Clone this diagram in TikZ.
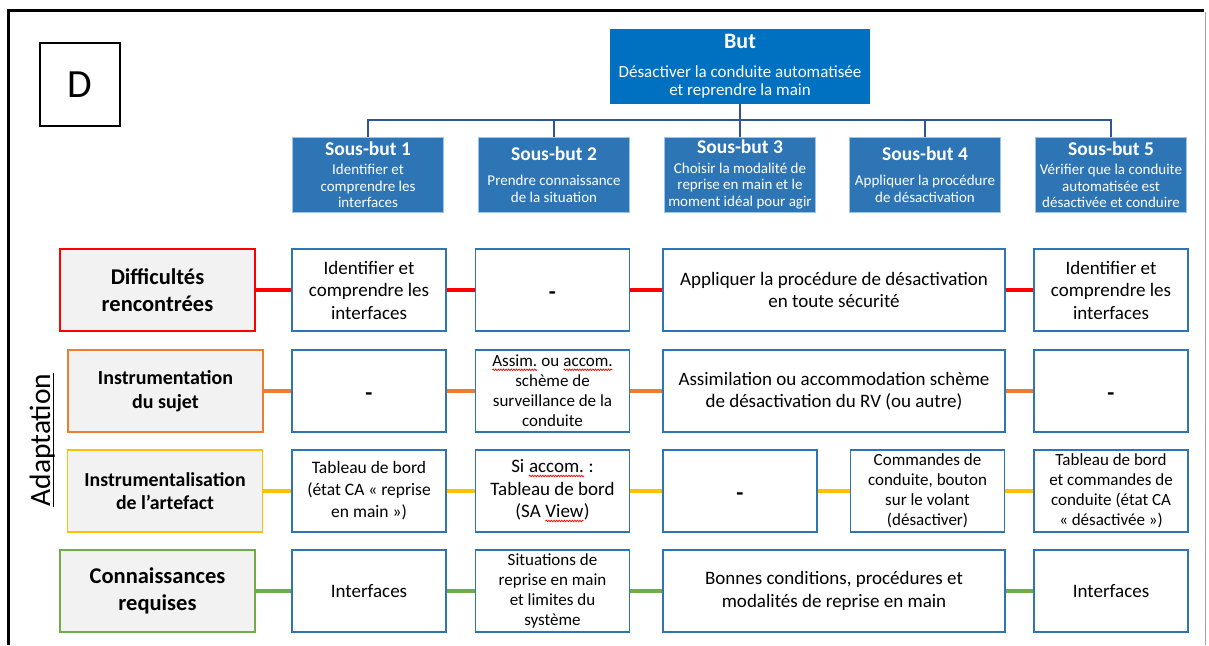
\documentclass[tikz,border=0pt]{standalone}
\usepackage{fontspec}
\setmainfont{Carlito}
\usepackage{tikz}
\usetikzlibrary{positioning, calc, decorations.pathmorphing}
\usepackage{xcolor}
\definecolor{butblue}{HTML}{0070C0}
\definecolor{sbblue}{HTML}{2E75B6}
\definecolor{sbedge}{HTML}{9DC3E6}
\definecolor{treeblue}{HTML}{2F5597}
\definecolor{labgray}{HTML}{F2F2F2}
\definecolor{difred}{HTML}{FF0000}
\definecolor{insorange}{HTML}{ED7D31}
\definecolor{artgold}{HTML}{FFC000}
\definecolor{congreen}{HTML}{70AD47}
\newcommand{\spellmark}[1]{\tikz[baseline=(sw.base), x=1pt, y=1pt]{%
    \node[draw=none, fill=none, minimum width=0pt, minimum height=0pt, inner sep=0pt, outer sep=0pt] (sw) {#1};
    \draw[draw=difred, line width=0.7pt, decorate, decoration={snake, amplitude=0.8pt, segment length=2.6pt}]
        ([yshift=-3pt]sw.base west) -- ([yshift=-3pt]sw.base east);}}
\newcommand{\nodash}{\raisebox{-9pt}[0pt][0pt]{\fontsize{23}{24}\selectfont\bfseries -}}

\begin{document}
\begin{tikzpicture}[x=1pt, y=-1pt,
    butbox/.style={fill=butblue, text=white, align=center, inner sep=0pt,
        minimum width=260pt, minimum height=75pt, font=\fontsize{17}{18}\selectfont},
    sbbox/.style={fill=sbblue, draw=sbedge, line width=0.8pt, text=white, align=center,
        inner sep=0pt, minimum width=151pt, minimum height=75pt, font=\fontsize{15}{16.5}\selectfont},
    tree/.style={treeblue, line width=2pt},
    labbox/.style={fill=labgray, line width=1.6pt, align=center, inner sep=0pt,
        minimum width=195pt, minimum height=82pt},
    cell/.style={draw=sbblue, fill=white, line width=1.6pt, align=center, inner sep=0pt,
        minimum width=154pt, minimum height=82pt, font=\fontsize{19}{22.5}\selectfont},
    small/.style={font=\fontsize{17}{20}\selectfont},
    wide/.style={minimum width=342pt},
    link/.style={line width=4pt}]

    \useasboundingbox (0,0) rectangle (1209,645);

    % Frame
    \draw[line width=3.5pt] (8.5,645) -- (8.5,10.5) -- (1204,10.5);
    \draw[black!35, line width=1pt] (1205,12) -- (1205,645);
    \node[draw, line width=1.8pt, minimum width=80pt, minimum height=83pt, inner sep=0pt,
        font=\fontsize{40}{42}\selectfont] (tag) at (80,84.5) {D};

    % Goal and sub-goals
    \node[butbox] (but) at (740,66) {{\fontsize{22}{24}\selectfont\bfseries But}\\[11pt]
        Désactiver la conduite automatisée\\ et reprendre la main};
    \node[sbbox] (sb1) at (368,174.5) {{\fontsize{19.5}{21}\selectfont\bfseries Sous-but 1}\\[3pt]
        Identifier et\\ comprendre les\\ interfaces};
    \node[sbbox] (sb2) at (554,174.5) {{\fontsize{19.5}{21}\selectfont\bfseries Sous-but 2}\\[8.5pt]
        Prendre connaissance\\ de la situation};
    \node[sbbox] (sb3) at (740,174.5) {{\fontsize{19.5}{21}\selectfont\bfseries Sous-but 3}\\[3pt]
        Choisir la modalité de\\ reprise en main et le\\ moment idéal pour agir};
    \node[sbbox] (sb4) at (925,174.5) {{\fontsize{19.5}{21}\selectfont\bfseries Sous-but 4}\\[8.5pt]
        Appliquer la procédure\\ de désactivation};
    \node[sbbox] (sb5) at (1111,174.5) {{\fontsize{19.5}{21}\selectfont\bfseries Sous-but 5}\\[3pt]
        Vérifier que la conduite\\ automatisée est\\ désactivée et conduire};

    \coordinate (bar) at (740,120);
    \foreach \i in {1,...,5}
        \draw[tree] (but.south) -- (bar) -| (sb\i.north);

    % Row labels
    \node[labbox, draw=difred, font=\fontsize{22.5}{27}\selectfont\bfseries] (dif) at (157.5,290)
        {Difficultés\\ rencontrées};
    \node[labbox, draw=insorange, font=\fontsize{20}{24}\selectfont\bfseries] (ins) at (165.5,391)
        {Instrumentation\\ du sujet};
    \node[labbox, draw=artgold, font=\fontsize{19.8}{23}\selectfont\bfseries] (art) at (165,491)
        {Instrumentalisation\\ de l’artefact};
    \node[labbox, draw=congreen, font=\fontsize{22.5}{27}\selectfont\bfseries] (con) at (157.5,591)
        {Connaissances\\ requises};

    \node[rotate=90, anchor=base, inner sep=0pt, font=\fontsize{29.5}{32}\selectfont] (adapt)
        at (50,440) {Adaptation};
    \draw[line width=1pt] ($(adapt.base west)+(3,0)$) -- ($(adapt.base east)+(3,0)$);

    % Row 1
    \node[cell] (d1) at (369,290) {Identifier et\\ comprendre les\\ interfaces};
    \node[cell] (d2) at (552.5,290) {\nodash};
    \node[cell, wide] (d3) at (834,290) {Appliquer la procédure de désactivation\\ en toute sécurité};
    \node[cell] (d4) at (1111,290) {Identifier et\\ comprendre les\\ interfaces};

    % Row 2
    \node[cell] (i1) at (369,391) {\nodash};
    \node[cell, small] (i2) at (552.5,391) {\spellmark{Assim.} ou \spellmark{accom.}\\ schème de\\
        surveillance de la\\ conduite};
    \node[cell, wide] (i3) at (834,391) {Assimilation ou accommodation schème\\ de désactivation du RV (ou autre)};
    \node[cell] (i4) at (1111,391) {\nodash};

    % Row 3
    \node[cell, font=\fontsize{17.5}{22}\selectfont] (a1) at (369,491) {Tableau de bord\\ (état CA « reprise\\ en main »)};
    \node[cell] (a2) at (552.5,491) {Si \spellmark{accom.} :\\ Tableau de bord\\ (SA \spellmark{View})};
    \node[cell] (a3) at (740,491) {\nodash};
    \node[cell, small] (a4) at (927.5,491) {Commandes de\\ conduite, bouton\\ sur le volant\\ (désactiver)};
    \node[cell, small] (a5) at (1111,491) {Tableau de bord\\ et commandes de\\ conduite (état CA\\ « désactivée »)};

    % Row 4
    \node[cell] (c1) at (369,591) {Interfaces};
    \node[cell, small] (c2) at (552.5,591) {Situations de\\ reprise en main\\ et limites du\\ système};
    \node[cell, wide] (c3) at (834,591) {Bonnes conditions, procédures et\\ modalités de reprise en main};
    \node[cell] (c4) at (1111,591) {Interfaces};

    % Links
    \foreach \a/\b in {dif/d1, d1/d2, d2/d3, d3/d4}
        \draw[link, difred] (\a) -- (\b);
    \foreach \a/\b in {ins/i1, i1/i2, i2/i3, i3/i4}
        \draw[link, insorange] (\a) -- (\b);
    \foreach \a/\b in {art/a1, a1/a2, a2/a3, a3/a4, a4/a5}
        \draw[link, artgold] (\a) -- (\b);
    \foreach \a/\b in {con/c1, c1/c2, c2/c3, c3/c4}
        \draw[link, congreen] (\a) -- (\b);
\end{tikzpicture}
\end{document}
